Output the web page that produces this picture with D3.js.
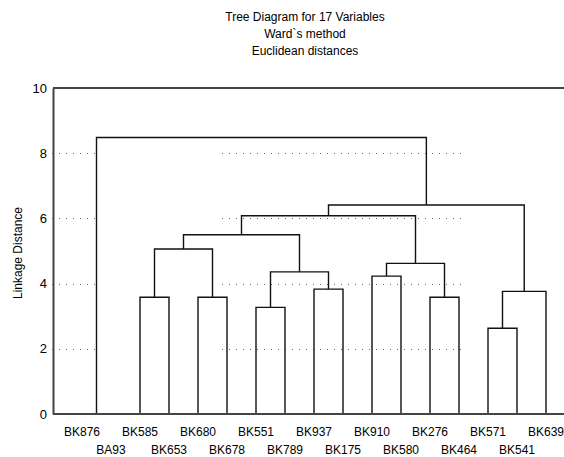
<!DOCTYPE html>
<html>
<head>
<meta charset="utf-8">
<script src="https://cdn.jsdelivr.net/npm/d3@7"></script>
<style>
  html, body { margin: 0; padding: 0; background: #fff; }
  svg { display: block; font-family: "Liberation Sans", Arial, sans-serif; }
</style>
</head>
<body>
<svg id="chart" width="564" height="457"></svg>
<script>
// ---- data ----
const titleLines = ["Tree Diagram for 17 Variables", "Ward`s method", "Euclidean distances"];
const yAxisLabel = "Linkage Distance";
const leaves = ["BK876","BA93","BK585","BK653","BK680","BK678","BK551","BK789","BK937","BK175","BK910","BK580","BK276","BK464","BK571","BK541","BK639"];
// merges: node ids 0..16 are leaves, 17+ are clusters in order
const mergeLeft   = [0, 2, 4, 6, 8, 10, 12, 14, 24, 18, 20, 22, 26, 29, 30, 17];
const mergeRight  = [1, 3, 5, 7, 9, 11, 13, 15, 16, 19, 21, 23, 27, 28, 25, 31];
const mergeHeight = [0, 3.58, 3.58, 3.27, 3.83, 4.23, 3.58, 2.63, 3.76, 5.06, 4.36, 4.62, 5.50, 6.08, 6.41, 8.48];
const yTicks = [0, 2, 4, 6, 8, 10];
const gridValues = [2, 4, 6, 8];

// ---- layout ----
const W = 564, H = 457;
const plot = { left: 53, right: 564, top: 88, bottom: 414 };
const svg = d3.select("#chart");

const x = d3.scalePoint().domain(leaves).range([82, 546]);
const y = d3.scaleLinear().domain([0, 10]).range([plot.bottom, plot.top]);

// title
svg.append("g").selectAll("text").data(titleLines).join("text")
  .attr("x", 305).attr("y", (d, i) => 21 + i * 17)
  .attr("text-anchor", "middle").attr("font-size", 12).attr("fill", "#000")
  .text(d => d);

// dotted grid (visible segments)
const gridSegs = [[52, 95], [222, 467]];
const grid = svg.append("g");
gridValues.forEach(v => {
  gridSegs.forEach(s => {
    grid.append("line")
      .attr("x1", s[0]).attr("x2", s[1])
      .attr("y1", Math.round(y(v)) + 0.5).attr("y2", Math.round(y(v)) + 0.5)
      .attr("stroke", "#666").attr("stroke-width", 1)
      .attr("stroke-dasharray", "1,6");
  });
});

// dendrogram
const nodeX = leaves.map(l => x(l));
const nodeH = leaves.map(() => 0);
const links = svg.append("g");
mergeLeft.forEach((l, i) => {
  const r = mergeRight[i], h = mergeHeight[i];
  const xl = nodeX[l], xr = nodeX[r];
  links.append("path")
    .attr("d", `M${xl},${y(nodeH[l])}V${y(h)}H${xr}V${y(nodeH[r])}`)
    .attr("fill", "none").attr("stroke", "#111").attr("stroke-width", 1.4);
  nodeX.push((xl + xr) / 2);
  nodeH.push(h);
});

// frame lines
const frame = svg.append("g").attr("stroke", "#444").attr("stroke-width", 2);
frame.append("line").attr("x1", plot.left).attr("x2", plot.right).attr("y1", plot.top).attr("y2", plot.top);
frame.append("line").attr("x1", plot.left).attr("x2", plot.right).attr("y1", plot.bottom).attr("y2", plot.bottom);

// y axis
const yAxis = d3.axisLeft(y).tickValues(yTicks).tickSize(0).tickPadding(6).tickFormat(d3.format("d"));
const gy = svg.append("g").attr("transform", `translate(${plot.left},0)`).call(yAxis);
gy.select(".domain").attr("stroke", "#444").attr("stroke-width", 2);
gy.selectAll("text").attr("font-size", 13).attr("fill", "#000")
  .attr("font-family", "Liberation Sans, Arial, sans-serif");

// y label
svg.append("text")
  .attr("transform", `translate(22,${(plot.top + plot.bottom) / 2 + 2}) rotate(-90)`)
  .attr("text-anchor", "middle").attr("font-size", 12).attr("fill", "#000")
  .text(yAxisLabel);

// leaf labels (staggered)
svg.append("g").selectAll("text").data(leaves).join("text")
  .attr("x", d => x(d))
  .attr("y", (d, i) => i % 2 === 0 ? 436 : 454)
  .attr("text-anchor", "middle").attr("font-size", 12).attr("fill", "#000")
  .text(d => d);
</script>
</body>
</html>
